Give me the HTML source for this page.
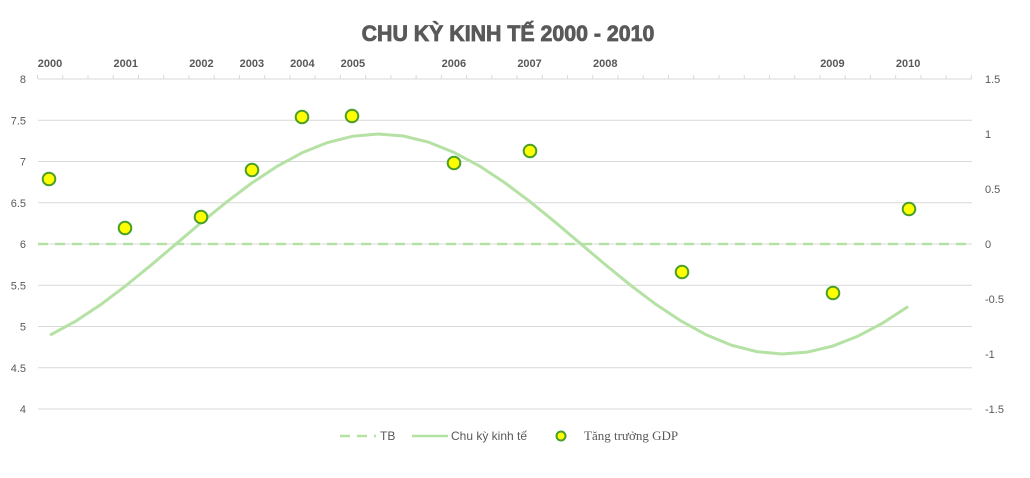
<!DOCTYPE html>
<html><head><meta charset="utf-8"><style>
body{margin:0;background:#fff;}
svg{display:block;font-family:"Liberation Sans",sans-serif;}
</style></head><body>
<svg id="s" width="1030" height="478" viewBox="0 0 1030 478">
<text x="508" y="41" text-anchor="middle" font-size="22" font-weight="bold" fill="#595959" stroke="#595959" stroke-width="0.8" transform="translate(508,0) scale(0.97,1) translate(-508,0)">CHU KỲ KINH TẾ 2000 - 2010</text>
<g id="grid" stroke="#d9d9d9" stroke-width="1"></g>
<g id="lbl" font-size="11" fill="#595959"></g>
<g id="top" font-size="11" font-weight="bold" fill="#595959" text-anchor="middle"></g>
<line x1="38" y1="244" x2="972" y2="244" stroke="#b5e2a4" stroke-width="2.5" stroke-dasharray="10,7"/>
<path id="curve" fill="none" stroke="#b5e2a4" stroke-width="3"/>
<g id="pts" fill="#ffff00" stroke="#4a9e2a" stroke-width="2"></g>
<g font-size="12" fill="#595959">
<line x1="340" y1="436" x2="376" y2="436" stroke="#b5e2a4" stroke-width="2.5" stroke-dasharray="10,7"/>
<text x="380" y="440">TB</text>
<line x1="412" y1="436" x2="448" y2="436" stroke="#b5e2a4" stroke-width="2.5"/>
<text x="451" y="440">Chu kỳ kinh tế</text>
<circle cx="561" cy="436" r="4.5" fill="#ffff00" stroke="#4a9e2a" stroke-width="2"/>
<text x="584" y="440" font-family="Liberation Serif,serif" font-size="13">Tăng trưởng GDP</text>
</g>
</svg>
<script>
var NS="http://www.w3.org/2000/svg";
function el(p,t,a,txt){var e=document.createElementNS(NS,t);for(var k in a)e.setAttribute(k,a[k]);if(txt!==undefined)e.textContent=txt;document.getElementById(p).appendChild(e);}
var L=["8","7.5","7","6.5","6","5.5","5","4.5","4"],R=["1.5","1","0.5","0","-0.5","-1","-1.5"];
for(var i=0;i<9;i++){var y=79+i*41.25;el("grid","line",{x1:38,x2:972,y1:y,y2:y});el("lbl","text",{x:26,y:y+4,"text-anchor":"end"},L[i]);}
for(var i=0;i<7;i++){var y=79+i*55;el("lbl","text",{x:985,y:y+4},R[i]);}
for(var k=0;k<=37;k++){var x=37.5+k*25.24;el("grid","line",{x1:x,x2:x,y1:75,y2:79});}
var yrs=[[0,"2000"],[3,"2001"],[6,"2002"],[8,"2003"],[10,"2004"],[12,"2005"],[16,"2006"],[19,"2007"],[22,"2008"],[31,"2009"],[34,"2010"]];
yrs.forEach(function(a){el("top","text",{x:50+a[0]*25.24,y:67},a[1]);});
var d="";for(var k=0;k<=34;k++){var x=50+k*25.24;var y=244-110*Math.sin(2*Math.PI*(x-176)/810);d+=(k?"L":"M")+x.toFixed(1)+","+y.toFixed(1);}
document.getElementById("curve").setAttribute("d",d);
[[49,179],[125,228],[201,217],[252,170],[302,117],[352,116],[454,163],[530,151],[682,272],[833,293],[909,209]].forEach(function(p){el("pts","circle",{cx:p[0],cy:p[1],r:6.3});});
</script>
</body></html>
